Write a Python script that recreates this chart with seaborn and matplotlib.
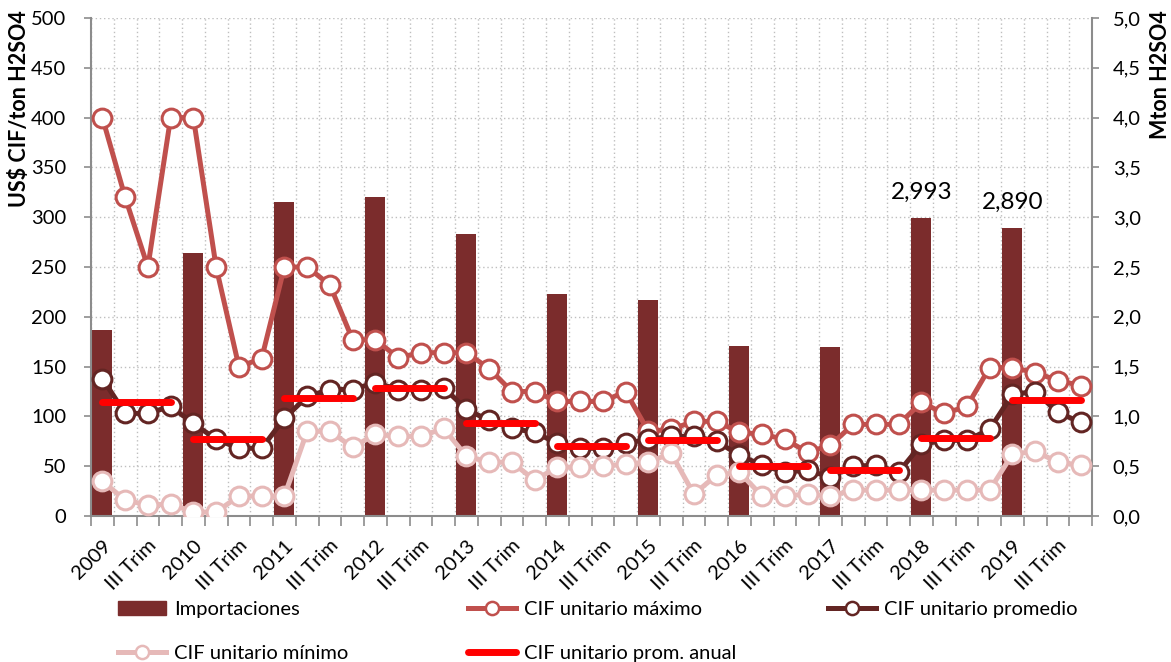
import numpy as np
import pandas as pd
import matplotlib
matplotlib.use("Agg")
import matplotlib.pyplot as plt
import seaborn as sns
from matplotlib.ticker import FixedLocator, FuncFormatter, MultipleLocator
from matplotlib.lines import Line2D
from matplotlib.patches import Patch

# ---------------- data ----------------
years = list(range(2009, 2020))
tick_labels = []
for y in years:
    tick_labels += [str(y), "III Trim"]

importaciones = [1.87, 2.64, 3.15, 3.20, 2.83, 2.23, 2.17, 1.71, 1.70, 2.993, 2.890]
importaciones_labels = ["", "", "", "", "", "", "", "", "", "2,993", "2,890"]

cif_max = [400, 320, 250, 400, 400, 250, 150, 158, 250, 250, 232, 177,
           177, 159, 164, 164, 164, 148, 125, 125, 115, 115, 115, 125,
           85, 87, 95, 95, 84, 82, 77, 64, 71, 92, 92, 92,
           114, 103, 110, 149, 149, 144, 136, 131]
cif_prom = [138, 103, 103, 110, 93, 77, 68, 68, 98, 120, 127, 127,
            134, 127, 127, 129, 107, 96, 88, 84, 73, 68, 68, 73,
            77, 80, 80, 75, 61, 51, 44, 46, 39, 50, 51, 44,
            72, 76, 76, 87, 122, 125, 104, 94]
cif_min = [35, 16, 11, 12, 4, 4, 20, 20, 20, 85, 85, 69,
           82, 80, 80, 88, 60, 54, 54, 36, 49, 49, 50, 52,
           54, 63, 22, 41, 44, 20, 20, 22, 20, 26, 26, 26,
           26, 26, 26, 26, 62, 65, 54, 51]
cif_prom_anual = [114, 77, 118, 129, 93, 70, 76, 50, 46, 78, 116]

# ---------------- frames ----------------
q = np.arange(len(cif_max))
df_q = pd.DataFrame({
    "q": q,
    "year": np.repeat(years, 4),
    "max": cif_max,
    "prom": cif_prom,
    "min": cif_min,
    "anual": np.repeat(cif_prom_anual, 4),
})
df_y = pd.DataFrame({"q": np.arange(len(years)) * 4, "imp": importaciones})

# ---------------- style ----------------
C_BAR = "#7B2C2C"
C_MAX = "#C0504D"
C_PROM = "#632523"
C_MIN = "#E6B9B8"
C_ANUAL = "#FF0000"
C_AX = "#8C8C8C"
C_GRID = "#BFBFBF"

plt.rcParams["font.family"] = ["Lato", "DejaVu Sans"]

fig = plt.figure(figsize=(11.71, 6.62), dpi=100)
axb = fig.add_axes([91 / 1171, 1 - 516 / 662, 1001 / 1171, 498 / 662])
axl = axb.twinx()

# bars (right scale)
sns.barplot(data=df_y, x="q", y="imp", native_scale=True, width=0.22,
            color=C_BAR, saturation=1, errorbar=None, ax=axb, zorder=2)
axb.bar_label(axb.containers[0], labels=importaciones_labels, padding=11,
              fontsize=17.5, color="black")

# lines (left scale)
mk = dict(marker="o", markersize=13.5, markerfacecolor="white", markeredgewidth=2.2)
sns.lineplot(data=df_q, x="q", y="max", ax=axl, color=C_MAX, lw=3.6,
             markeredgecolor=C_MAX, **mk)
sns.lineplot(data=df_q, x="q", y="prom", ax=axl, color=C_PROM, lw=3.6,
             markeredgecolor=C_PROM, **mk)
sns.lineplot(data=df_q, x="q", y="min", ax=axl, color=C_MIN, lw=3.6,
             markeredgecolor=C_MIN, **mk)
sns.lineplot(data=df_q, x="q", y="anual", units="year", estimator=None, ax=axl,
             color=C_ANUAL, lw=5, solid_capstyle="round")

# ---------------- axes ----------------
axb.set_xlim(-0.5, len(q) - 0.5)
axb.set_ylim(0, 5)
axl.set_ylim(0, 500)

axb.xaxis.set_major_locator(FixedLocator(np.arange(0, len(q), 2)))
axb.set_xticklabels(tick_labels)
axb.xaxis.set_minor_locator(FixedLocator(np.arange(-0.5, len(q) + 0.5, 1)))
axb.tick_params(axis="x", which="major", length=0, labelsize=14.5, pad=15)
axb.tick_params(axis="x", which="minor", length=7, color=C_AX, width=1.2)
for lab in axb.get_xticklabels():
    lab.set_rotation(45)
    lab.set_ha("right")
    lab.set_va("top")
    lab.set_rotation_mode("anchor")

axb.yaxis.tick_right()
axb.yaxis.set_label_position("right")
axb.yaxis.set_major_locator(MultipleLocator(0.5))
axb.yaxis.set_major_formatter(FuncFormatter(lambda v, p: f"{v:.1f}".replace(".", ",")))
axb.tick_params(axis="y", length=5, color=C_AX, width=1.2, labelsize=14.5, pad=10)

axl.yaxis.tick_left()
axl.yaxis.set_label_position("left")
axl.yaxis.set_major_locator(MultipleLocator(50))
axl.tick_params(axis="y", length=5, color=C_AX, width=1.2, labelsize=14.5, pad=13)

axb.set_xlabel("")
axl.set_xlabel("")
axb.set_ylabel("Mton H2SO4", fontsize=15.5, fontweight="bold", loc="top")
axl.set_ylabel("US$ CIF/ton H2SO4", fontsize=15.5, fontweight="bold", loc="top")
axb.yaxis.set_label_coords(1 + 58 / 1001, 1 + 8 / 498)
axl.yaxis.set_label_coords(-61 / 1001, 1 + 8 / 498)

grid_kw = dict(color=C_GRID, lw=1, ls=(0, (1, 2)))
axb.grid(False)
axb.grid(which="minor", axis="x", **grid_kw)
axb.grid(which="major", axis="y", **grid_kw)
axb.set_axisbelow(True)

axb.spines["top"].set_visible(False)
for s in ["left", "right", "bottom"]:
    axb.spines[s].set_color(C_AX)
    axb.spines[s].set_linewidth(1.5)
for s in axl.spines.values():
    s.set_visible(False)

# ---------------- legend ----------------
h_imp = Patch(facecolor=C_BAR, edgecolor=C_BAR)
def mline(c):
    return Line2D([], [], color=c, lw=3.6, marker="o", markersize=9.5,
                  markerfacecolor="white", markeredgecolor=c, markeredgewidth=1.8)
h_max, h_prom, h_min = mline(C_MAX), mline(C_PROM), mline(C_MIN)
h_an = Line2D([], [], color=C_ANUAL, lw=5, solid_capstyle="round")

leg_kw = dict(loc="upper left", frameon=False, fontsize=14.5, borderpad=0,
              borderaxespad=0, handlelength=2.4, handletextpad=0.4,
              labelspacing=1.35, numpoints=1)
cols = [
    ([h_imp, h_min], ["Importaciones", "CIF unitario mínimo"], 118),
    ([h_max, h_an], ["CIF unitario máximo", "CIF unitario prom. anual"], 468),
    ([h_prom], ["CIF unitario promedio"], 828),
]
for hs, ls, xpx in cols:
    fig.legend(hs, ls, bbox_to_anchor=(xpx / 1171, 1 - 601 / 662), **leg_kw)

fig.savefig("out.png", dpi=100)
